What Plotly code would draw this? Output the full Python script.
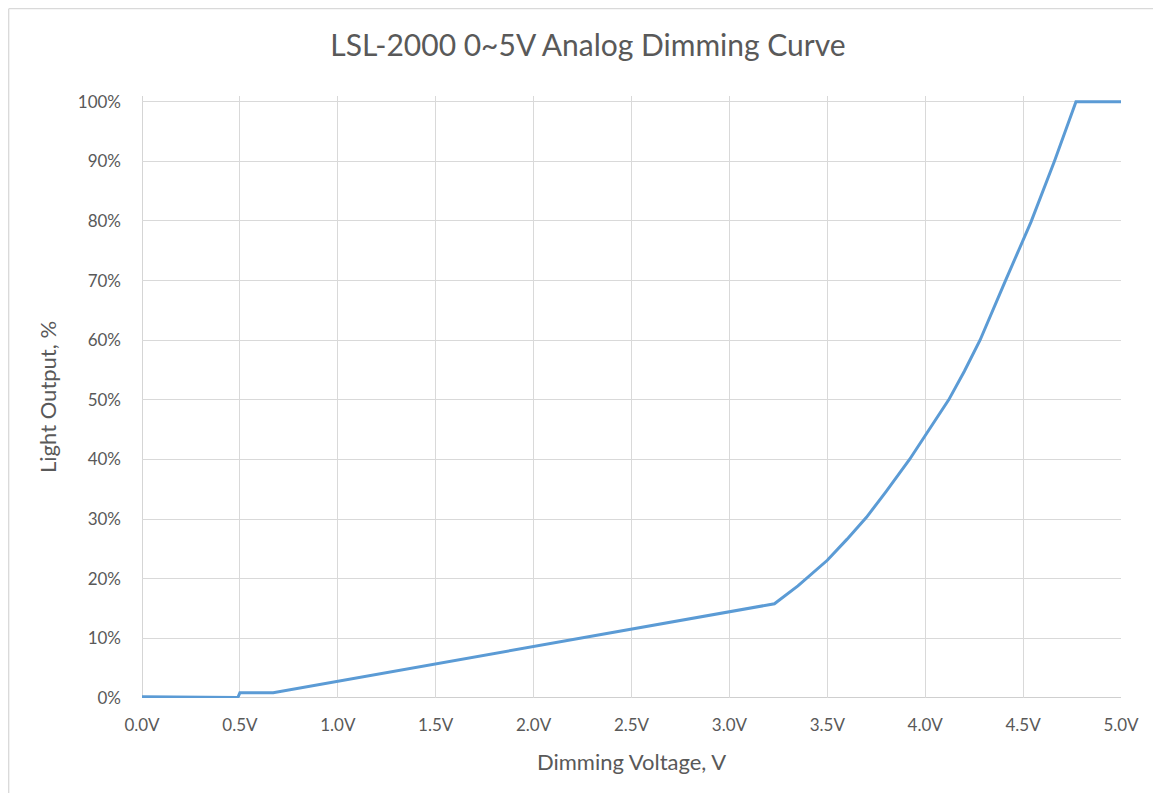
import plotly.graph_objects as go

# Data
voltage = [0.0, 0.49, 0.50, 0.67, 3.23, 3.35, 3.50, 3.60, 3.70, 3.80, 3.92, 4.00,
           4.12, 4.20, 4.28, 4.41, 4.50, 4.54, 4.66, 4.77, 5.00]
light_output = [0.002, 0.001, 0.009, 0.009, 0.158, 0.188, 0.231, 0.266, 0.303, 0.346,
                0.400, 0.440, 0.500, 0.548, 0.600, 0.700, 0.766, 0.798, 0.900, 1.000, 1.000]

x_ticks = [0.0, 0.5, 1.0, 1.5, 2.0, 2.5, 3.0, 3.5, 4.0, 4.5, 5.0]
y_ticks = [0.0, 0.1, 0.2, 0.3, 0.4, 0.5, 0.6, 0.7, 0.8, 0.9, 1.0]

FONT = "Lato, Carlito, Calibri, 'Open Sans', sans-serif"
GRAY = "#595959"
GRID = "#d9d9d9"

fig = go.Figure()
fig.add_trace(go.Scatter(
    x=voltage, y=light_output, mode="lines",
    line=dict(color="#5B9BD5", width=3),
    showlegend=False, hoverinfo="x+y",
))

# figure is placed by the page with an 8px body margin
W, H = 1145, 785
left, right_px, top_px, bottom_px = 134, 1113, 88, 689.7
y100_px = 93.7
pw = right_px - left
ph = bottom_px - top_px

fig.update_layout(
    width=W, height=H,
    autosize=False,
    paper_bgcolor="white", plot_bgcolor="white",
    margin=dict(l=left, r=W - right_px, t=top_px, b=H - bottom_px, pad=0),
    font=dict(family=FONT, color=GRAY, size=17),
    title=dict(text="LSL-2000 0~5V Analog Dimming Curve",
               x=(588 - 8) / W, xanchor="center", xref="container",
               y=1 - 37 / H, yanchor="middle", yref="container",
               font=dict(size=30, color=GRAY, family=FONT)),
    xaxis=dict(
        range=[0, 5], tickvals=x_ticks,
        ticktext=[f"{v:.1f}V" for v in x_ticks],
        showgrid=True, gridcolor=GRID, gridwidth=1.3,
        zeroline=False, showline=False, ticks="",
        tickfont=dict(size=17, color=GRAY),
        ticklabelstandoff=15,
        title=dict(text="Dimming Voltage, V", font=dict(size=22, color=GRAY), standoff=20),
        fixedrange=True,
    ),
    yaxis=dict(
        range=[0, ph / (bottom_px - y100_px)], tickvals=y_ticks,
        ticktext=[f"{int(round(v * 100))}%" for v in y_ticks],
        showgrid=True, gridcolor=GRID, gridwidth=1.3,
        zeroline=False, showline=False, ticks="",
        tickfont=dict(size=17, color=GRAY),
        ticklabelstandoff=20,
        title=dict(text="Light Output, %", font=dict(size=22, color=GRAY), standoff=15),
        fixedrange=True,
    ),
    shapes=[
        dict(type="line", xref="paper", yref="paper",
             x0=(0.7 - left) / pw, x1=(0.7 - left) / pw,
             y0=(bottom_px - H) / ph, y1=(bottom_px - 0.7) / ph,
             line=dict(color="#d9d9d9", width=1.3), layer="below"),
        dict(type="line", xref="paper", yref="paper",
             x0=(0.7 - left) / pw, x1=(W - left) / pw,
             y0=(bottom_px - 0.7) / ph, y1=(bottom_px - 0.7) / ph,
             line=dict(color="#d9d9d9", width=1.3), layer="below"),
        dict(type="line", xref="paper", yref="y", x0=0, x1=1, y0=0, y1=0,
             line=dict(color="#bfbfbf", width=1.3), layer="below"),
        dict(type="line", xref="x", yref="paper", x0=0, x1=0, y0=0, y1=1,
             line=dict(color="#bfbfbf", width=1.3), layer="below"),
    ],
)

fig.write_html("out.html", config={"displayModeBar": False})
